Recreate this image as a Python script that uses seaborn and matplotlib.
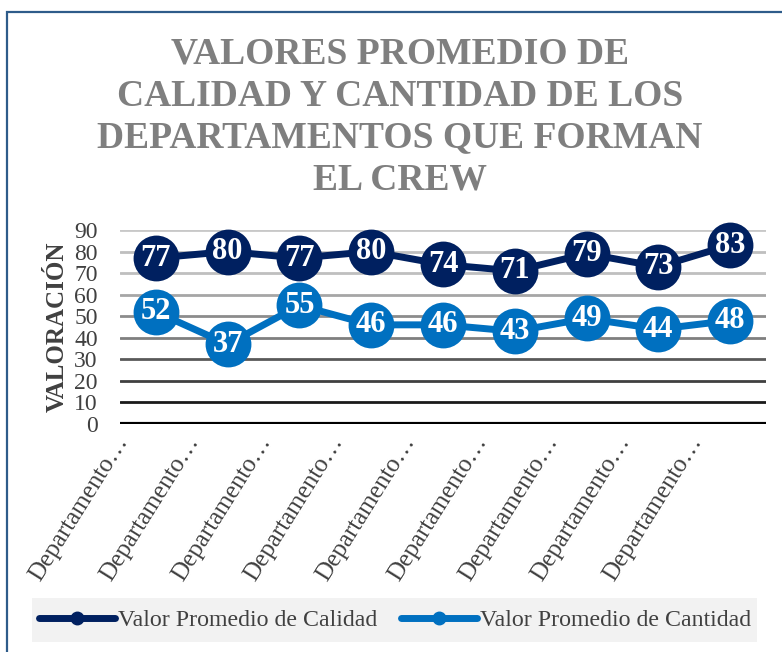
import numpy as np
import pandas as pd
import matplotlib
matplotlib.use("Agg")
import matplotlib.pyplot as plt
import matplotlib.transforms as mtransforms
from matplotlib.patches import Rectangle
from matplotlib.lines import Line2D
import seaborn as sns

departamentos = ["Departamento…"] * 9
calidad = [77, 80, 77, 80, 74, 71, 79, 73, 83]
cantidad = [52, 37, 55, 46, 46, 43, 49, 44, 48]
y_ticks = [0, 10, 20, 30, 40, 50, 60, 70, 80, 90]

series_names = ["Valor Promedio de Calidad", "Valor Promedio de Cantidad"]
colores = ["#002060", "#0070C0"]

sns.set_style("white")
plt.rcParams["font.family"] = ["Liberation Serif", "DejaVu Serif"]

df = pd.DataFrame({
    "pos": list(range(len(departamentos))) * 2,
    "valor": calidad + cantidad,
    "serie": [series_names[0]] * len(calidad) + [series_names[1]] * len(cantidad),
})

W, H = 782, 652
fig = plt.figure(figsize=(W / 100, H / 100), dpi=100)

# outer border (blue), only left and top visible
fig.patches.append(Rectangle((7 / W, -0.1), 1.2, 1 - 12 / H + 0.1, transform=fig.transFigure,
                             fill=False, edgecolor="#2E5C8A", lw=1.6, zorder=0))

ax = fig.add_axes([120 / W, 1 - 424 / H, 646 / W, 194 / H])

# gridlines getting darker toward the bottom
grays = ["#000000", "#1a1a1a", "#404040", "#595959", "#7f7f7f", "#8c8c8c", "#a6a6a6", "#bfbfbf", "#bfbfbf", "#c8c8c8"]
for t, c in zip(y_ticks, grays):
    ax.axhline(t, color=c, lw=3 if t == 0 else 2, zorder=0)

sns.lineplot(data=df, x="pos", y="valor", hue="serie", palette=colores, marker="o",
             markersize=33, markeredgewidth=0, linewidth=5, legend=False, ax=ax,
             clip_on=False, zorder=3)

for vals in (calidad, cantidad):
    for i, v in enumerate(vals):
        ax.text(i, v, str(v), ha="center", va="center", color="white", fontsize=22,
                fontweight="bold", zorder=5)

ax.set_xlim(-0.5, len(departamentos) - 0.5)
ax.set_ylim(0, 90)
ax.set_yticks(y_ticks)
ax.set_yticklabels([str(t) for t in y_ticks], fontsize=17, color="#404040")
ax.set_xticks(range(len(departamentos)))
ax.set_xticklabels([])
# category labels, shifted left like the original
offset = mtransforms.ScaledTranslation(-0.33, -0.14, fig.dpi_scale_trans)
for i, name in enumerate(departamentos):
    ax.text(i, 0, name, transform=ax.get_xaxis_transform() + offset, fontsize=18,
            color="#404040", rotation=58, ha="right", va="center", rotation_mode="anchor")
ax.tick_params(axis="x", length=0, pad=4)
ax.tick_params(axis="y", length=0, pad=16)
ax.set_xlabel("")
ax.set_ylabel("VALORACIÓN", fontsize=18, fontweight="bold", color="#404040")
ax.yaxis.set_label_coords(-0.08, 0.5)
sns.despine(ax=ax, left=True, bottom=True)
ax.grid(False)

fig.text(400 / W, 1 - 117 / H,
         "VALORES PROMEDIO DE\nCALIDAD Y CANTIDAD DE LOS\nDEPARTAMENTOS QUE FORMAN\nEL CREW",
         ha="center", va="center", fontsize=27, fontweight="bold", color="#7f7f7f",
         linespacing=1.25)

# legend
fig.patches.append(Rectangle((32 / W, 1 - 642 / H), 725 / W, 44 / H, transform=fig.transFigure,
                             facecolor="#F2F2F2", edgecolor="none", zorder=1))
handles = [Line2D([0], [0], color=c, lw=5, marker="o", markersize=9) for c in colores]
fig.legend(handles, series_names, loc="center", bbox_to_anchor=(395 / W, 1 - 620 / H),
           ncol=2, frameon=False, fontsize=17.2, handlelength=3.2, handletextpad=0.1,
           columnspacing=1.0, labelcolor="#404040")

fig.savefig("out.png", dpi=100)
